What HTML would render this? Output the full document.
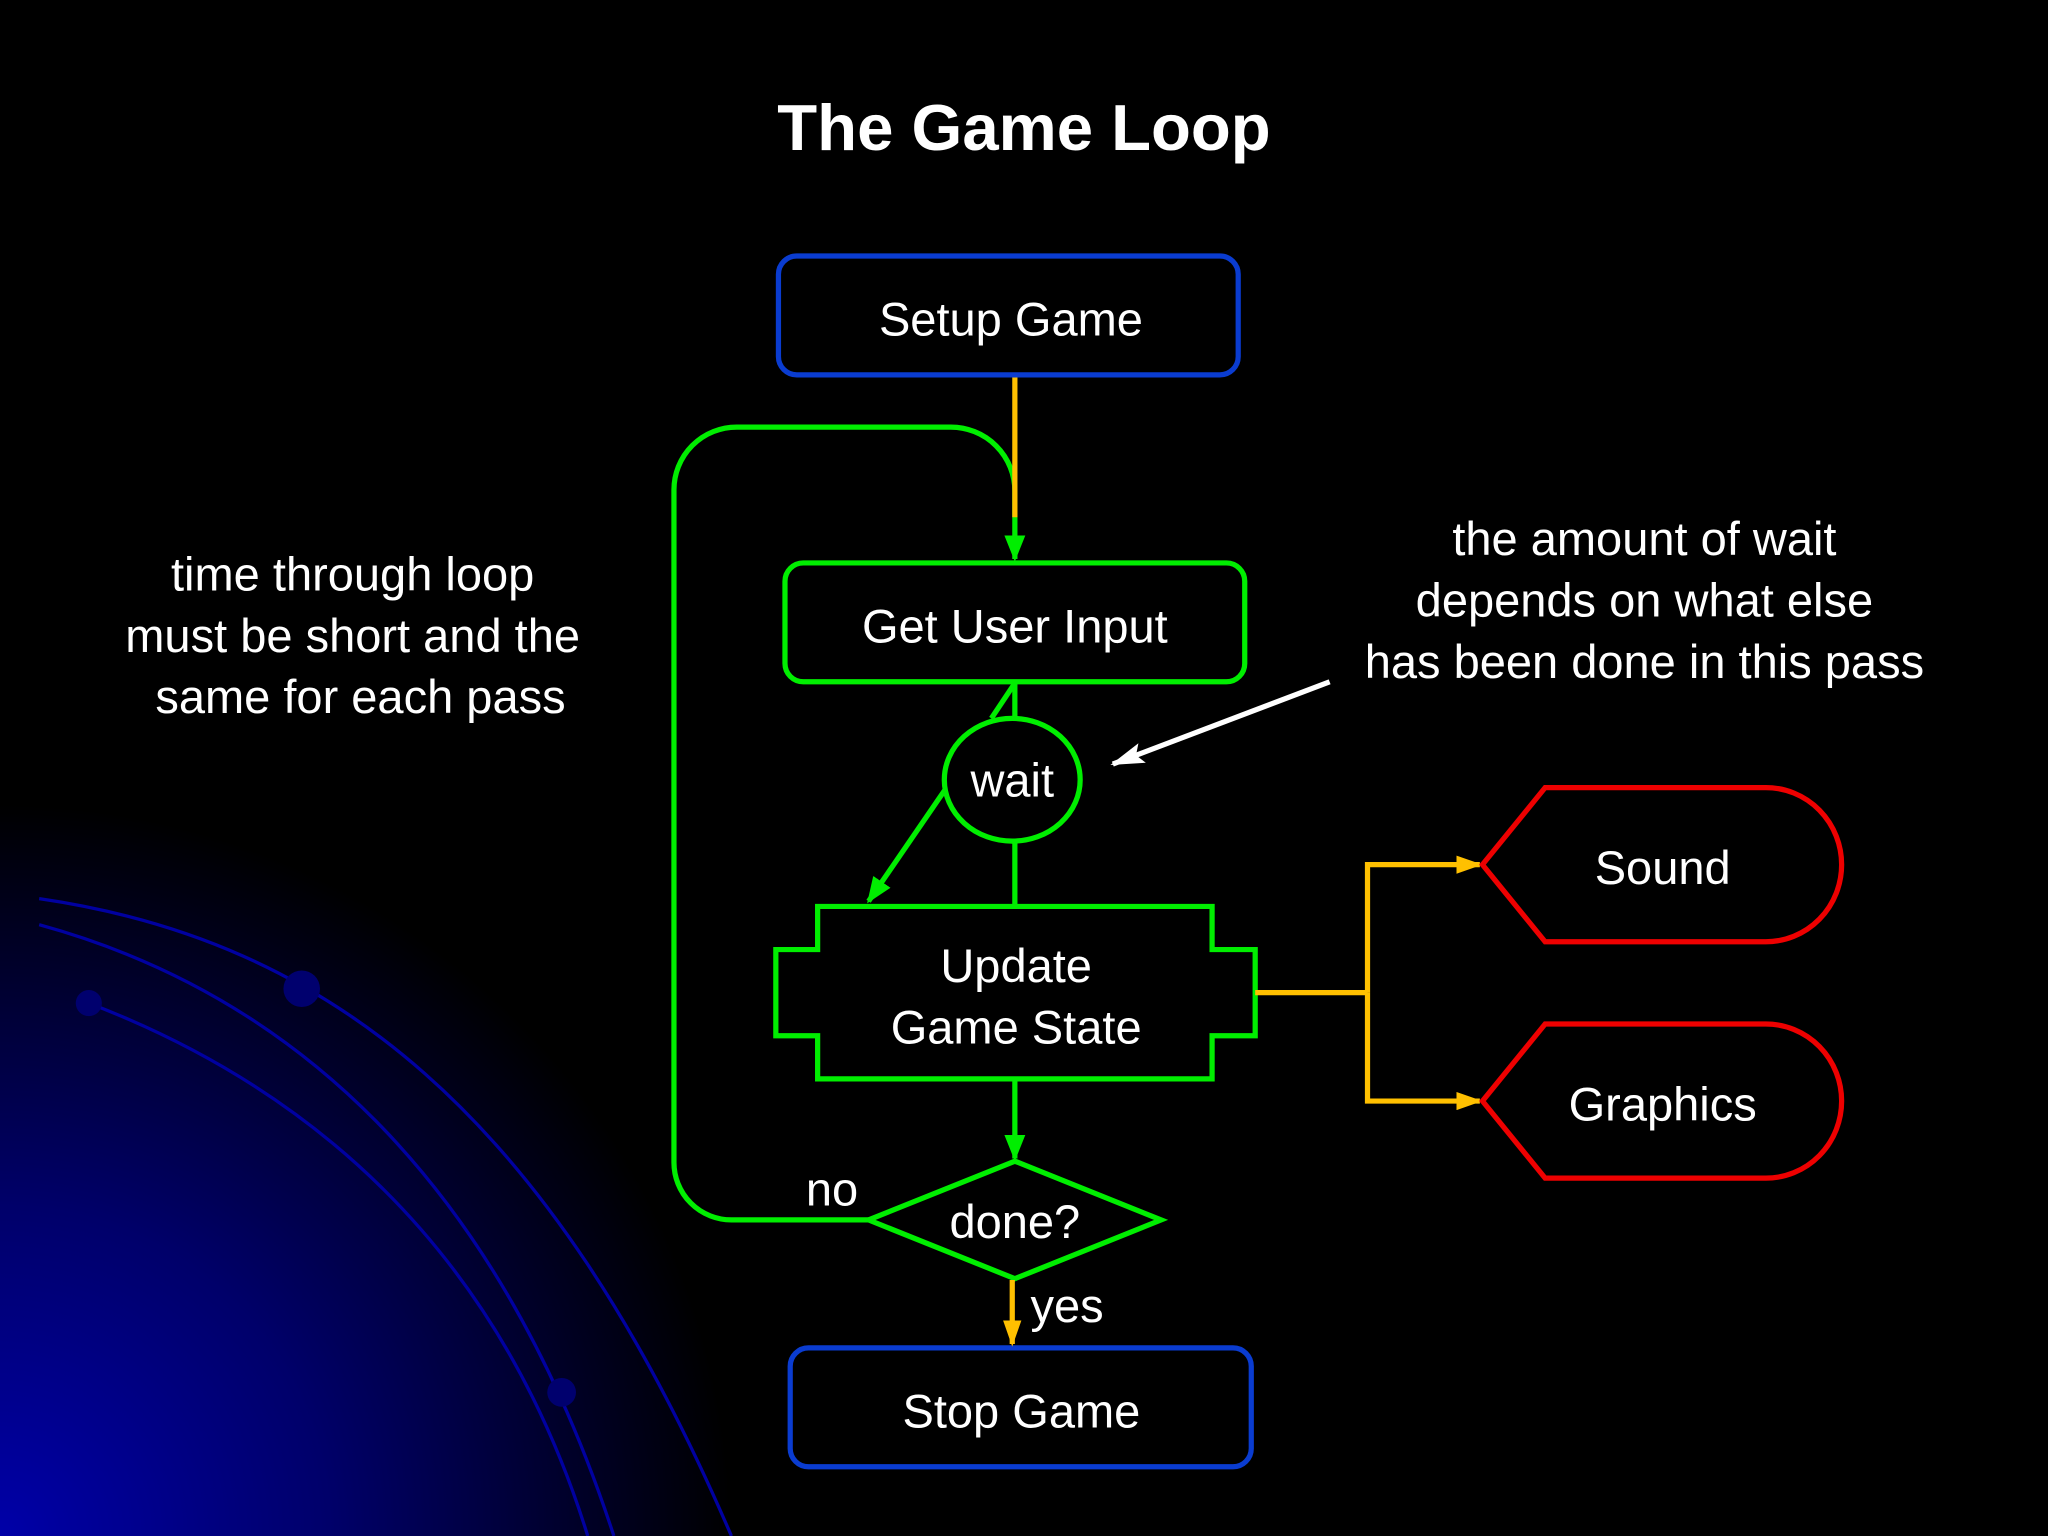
<!DOCTYPE html>
<html><head><style>html,body{margin:0;padding:0;background:#000}svg{display:block}</style></head>
<body>
<svg width="2048" height="1536" viewBox="0 0 1568 1176" xmlns="http://www.w3.org/2000/svg" font-family="'Liberation Sans', sans-serif">
<defs>
<radialGradient id="bg" cx="0" cy="1176" r="560" gradientUnits="userSpaceOnUse">
<stop offset="0" stop-color="#0000a8"/><stop offset="0.45" stop-color="#00006a"/><stop offset="1" stop-color="#000"/>
</radialGradient>
<marker id="aw" markerWidth="26" markerHeight="16" refX="24" refY="8" orient="auto" markerUnits="userSpaceOnUse"><path d="M0,0 L26,8 L0,16 L5,8 z" fill="#fff"/></marker>
<marker id="ag2" markerWidth="20" markerHeight="16" refX="18" refY="8" orient="auto" markerUnits="userSpaceOnUse"><path d="M0,0 L20,8 L0,16 z" fill="#00ee00"/></marker>
<marker id="ao2" markerWidth="20" markerHeight="14" refX="18" refY="7" orient="auto" markerUnits="userSpaceOnUse"><path d="M0,0 L20,7 L0,14 z" fill="#ffc000"/></marker>
</defs>
<rect width="1568" height="1176" fill="#000"/>
<rect width="1568" height="1176" fill="url(#bg)"/>
<g fill="none" stroke="#0000a0" stroke-width="2.5">
<path d="M30,688 C250,720 420,850 560,1176"/>
<path d="M30,708 C220,760 380,900 470,1176"/>
<path d="M68,768 C230,830 380,950 450,1176"/>
</g>
<circle cx="231" cy="757" r="14" fill="#00006e"/><circle cx="68" cy="768" r="10" fill="#00006e"/><circle cx="430" cy="1066" r="11" fill="#00006e"/>

<text x="784" y="115" fill="#fff" font-size="50" font-weight="bold" text-anchor="middle">The Game Loop</text>

<g fill="none" stroke-width="4">
<rect x="596" y="196" width="352" height="91" rx="14" stroke="#0a3cd0"/>
<rect x="605" y="1032" width="353" height="91" rx="14" stroke="#0a3cd0"/>
<path d="M667,934 H560 A44,44 0 0 1 516,890 V375 A48,48 0 0 1 564,327 H728 A49,49 0 0 1 777,376 V428" stroke="#00ee00" marker-end="url(#ag2)"/>
<line x1="777" y1="289" x2="777" y2="396" stroke="#ffc000"/>
<rect x="601" y="431" width="352" height="91" rx="14" stroke="#00ee00"/>
<line x1="777" y1="523" x2="777" y2="550" stroke="#00ee00"/>
<line x1="777" y1="523" x2="759" y2="550" stroke="#00ee00"/>
<ellipse cx="775" cy="597" rx="52" ry="47" stroke="#00ee00"/>
<line x1="724" y1="604" x2="665" y2="690" stroke="#00ee00" marker-end="url(#ag2)"/>
<line x1="777" y1="644" x2="777" y2="694" stroke="#00ee00"/>
<path d="M626,694 H928 V727 H961 V793 H928 V826 H626 V793 H594 V727 H626 Z" stroke="#00ee00"/>
<line x1="777" y1="826" x2="777" y2="887" stroke="#00ee00" marker-end="url(#ag2)"/>
<path d="M777,889 L889,934 L777,979 L665,934 Z" stroke="#00ee00"/>
<line x1="775" y1="980" x2="775" y2="1029" stroke="#ffc000" marker-end="url(#ao2)"/>
<path d="M961,760 H1047" stroke="#ffc000"/>
<path d="M1047,760 V662 H1133" stroke="#ffc000" marker-end="url(#ao2)"/>
<path d="M1047,760 V843 H1133" stroke="#ffc000" marker-end="url(#ao2)"/>
<path d="M1135,662 L1183,603 H1352 A58,59 0 0 1 1352,721 H1183 Z" stroke="#ee0000"/>
<path d="M1135,843 L1183,784 H1352 A58,59 0 0 1 1352,902 H1183 Z" stroke="#ee0000"/>
<line x1="1018" y1="522" x2="852" y2="585" stroke="#fff" stroke-width="4" marker-end="url(#aw)"/>
</g>

<g fill="#fff" font-size="36" text-anchor="middle">
<text x="774" y="257">Setup Game</text>
<text x="777" y="492">Get User Input</text>
<text x="775" y="610">wait</text>
<text x="778" y="752">Update</text>
<text x="778" y="799">Game State</text>
<text x="777" y="948">done?</text>
<text x="782" y="1093">Stop Game</text>
<text x="1273" y="677">Sound</text>
<text x="1273" y="858">Graphics</text>
<text x="637" y="923">no</text>
<text x="817" y="1012">yes</text>
<text x="270" y="452">time through loop</text>
<text x="270" y="499">must be short and the</text>
<text x="276" y="546">same for each pass</text>
<text x="1259" y="425">the amount of wait</text>
<text x="1259" y="472">depends on what else</text>
<text x="1259" y="519">has been done in this pass</text>
</g>
</svg>
</body></html>
